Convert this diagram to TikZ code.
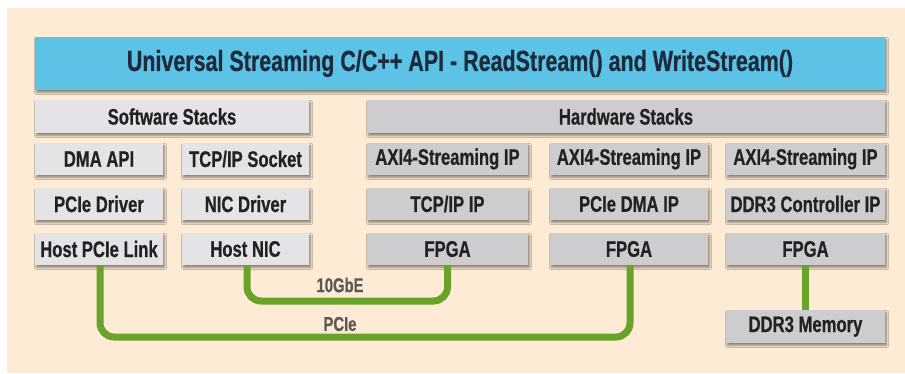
\documentclass[tikz,border=0pt]{standalone}
\usepackage{fontspec}
\setmainfont{Liberation Sans}[FakeStretch=0.74, BoldFont={Liberation Sans Bold}, BoldFeatures={FakeStretch=0.74, FakeBold=0.6}]
\usetikzlibrary{shadows.blur}
\definecolor{peach}{HTML}{FDEBD5}
\definecolor{bannerblue}{HTML}{5CC3E6}
\definecolor{swgray}{HTML}{E4E4E6}
\definecolor{hwgray}{HTML}{CDCDCF}
\definecolor{linkgreen}{HTML}{6AA329}
\definecolor{txt}{HTML}{222222}
\definecolor{bannertxt}{HTML}{1E2B3C}
\definecolor{labeltxt}{HTML}{5A5A52}
\tikzset{
  boxbase/.style={rectangle, inner sep=0pt, text=txt,
    font=\fontsize{22.5}{24}\selectfont\bfseries,
    blur shadow={shadow xshift=1.5pt, shadow yshift=-2.5pt, shadow blur steps=6, shadow opacity=45}},
  swbox/.style={boxbase, fill=swgray, minimum height=32pt},
  hwbox/.style={boxbase, fill=hwgray, minimum height=32pt},
  banner/.style={boxbase, fill=bannerblue, text=bannertxt, minimum height=53pt,
    font=\fontsize{29}{30}\selectfont\bfseries},
  link/.style={draw=linkgreen, line width=7pt, rounded corners=14pt},
  linklabel/.style={inner sep=0pt, text=labeltxt, font=\fontsize{20}{22}\selectfont\bfseries}
}
\begin{document}
\begin{tikzpicture}[x=1pt,y=-1pt]
\useasboundingbox (0,0) rectangle (905,373);
\fill[white] (0,0) rectangle (905,373);
\fill[peach] (7,8) rectangle (905,373);
% banner
\node[banner, minimum width=850pt] (api) at (460,63.5) {Universal Streaming C/C++ API - ReadStream() and WriteStream()};
% stack headers
\node[swbox, minimum width=274pt, minimum height=33pt] (sws) at (172,116.5) {Software Stacks};
\node[hwbox, minimum width=518pt, minimum height=33pt] (hws) at (626,116.5) {Hardware Stacks};
% software columns
\node[swbox, minimum width=128pt] (dma) at (99,159) {DMA API};
\node[swbox, minimum width=127pt] (sock) at (245.5,159) {TCP/IP Socket};
\node[swbox, minimum width=128pt] (pcidrv) at (99,204) {PCIe Driver};
\node[swbox, minimum width=127pt] (nicdrv) at (245.5,204) {NIC Driver};
\node[swbox, minimum width=128pt] (hpl) at (99,249) {Host PCIe Link};
\node[swbox, minimum width=127pt] (hnic) at (245.5,249) {Host NIC};
% hardware columns
\node[hwbox, minimum width=161pt] (axi1) at (447.5,159) {AXI4-Streaming IP};
\node[hwbox, minimum width=158pt] (axi2) at (629,159) {AXI4-Streaming IP};
\node[hwbox, minimum width=159pt] (axi3) at (805.5,159) {AXI4-Streaming IP};
\node[hwbox, minimum width=161pt] (tcpip) at (447.5,204) {TCP/IP IP};
\node[hwbox, minimum width=158pt] (pcidma) at (629,204) {PCIe DMA IP};
\node[hwbox, minimum width=159pt] (ddrctl) at (805.5,204) {DDR3 Controller IP};
\node[hwbox, minimum width=161pt] (fpga1) at (447.5,249) {FPGA};
\node[hwbox, minimum width=158pt] (fpga2) at (629,249) {FPGA};
\node[hwbox, minimum width=159pt] (fpga3) at (805.5,249) {FPGA};
\node[hwbox, minimum width=159pt, minimum height=33pt] (ddrmem) at (805.5,326.5) {DDR3 Memory};
% links
\draw[link] ([xshift=1pt]hpl.south) -- ([xshift=1pt]hpl.south |- 0,337) -- ([xshift=1pt]fpga2.south |- 0,337) -- ([xshift=1pt]fpga2.south);
\draw[link] ([xshift=1.5pt]hnic.south) -- ([xshift=1.5pt]hnic.south |- 0,301) -- (fpga1.south |- 0,301) -- (fpga1.south);
\draw[link] (fpga3.south) -- (ddrmem.north);
\node[linklabel] (gbe) at (340,285) {10GbE};
\node[linklabel] (pcie) at (340,324) {PCIe};
\end{tikzpicture}
\end{document}
